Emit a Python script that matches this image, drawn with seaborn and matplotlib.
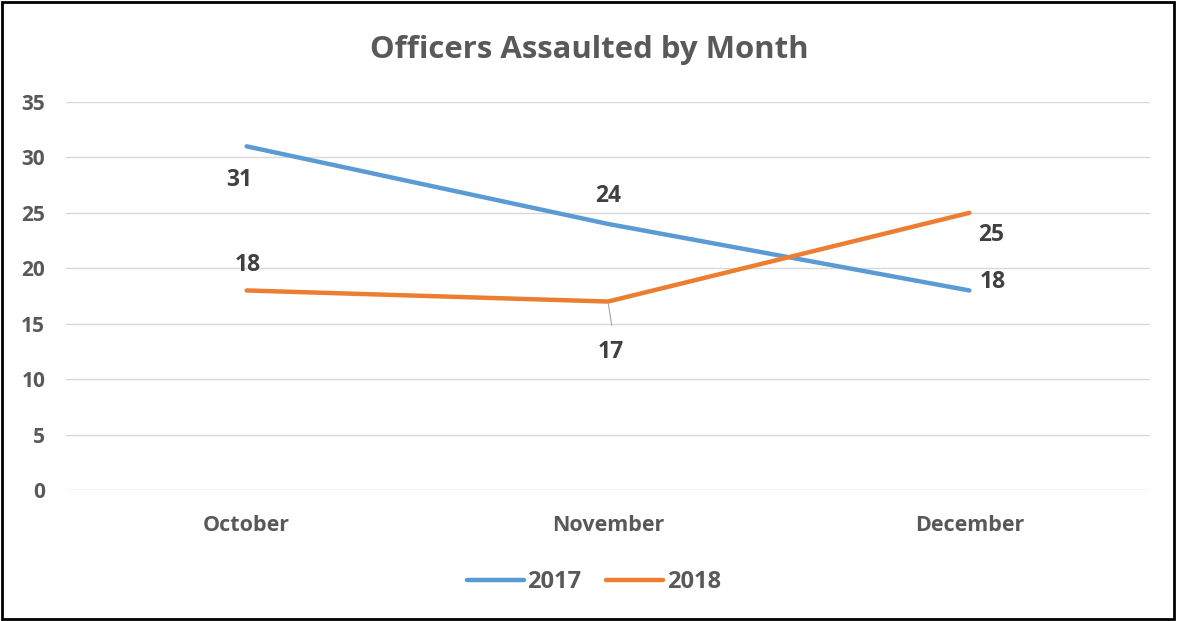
"""
Officers assaulted by month - line chart, 2017 vs 2018.
"""
import matplotlib
matplotlib.use("Agg")
import matplotlib.pyplot as plt
import pandas as pd
import seaborn as sns
from matplotlib.patches import Rectangle

# Data
months = ["October", "November", "December"]
years = ["2017", "2018"]
values_2017 = [31, 24, 18]
values_2018 = [18, 17, 25]
y_ticks = [0, 5, 10, 15, 20, 25, 30, 35]

# label placement per point (offset in points)
label_offsets = {
    "2017": [(-5, -24), (0, 20), (17, 6)],
    "2018": [(1, 18), (2, -36), (16, -16)],
}

COLORS = {"2017": "#5B9BD5", "2018": "#ED7D31"}
TEXT = "#595959"
LABEL = "#404040"

df = pd.DataFrame({
    "month": months * 2,
    "year": ["2017"] * 3 + ["2018"] * 3,
    "count": values_2017 + values_2018,
})
df["pos"] = df["month"].map({m: i for i, m in enumerate(months)})

sns.set_theme(style="white")
plt.rcParams["font.family"] = ["Open Sans", "DejaVu Sans"]
plt.rcParams["font.weight"] = "bold"

fig = plt.figure(figsize=(11.78, 6.21), dpi=100)
ax = fig.add_axes([66 / 1178, 1 - 490 / 621, (1150 - 66) / 1178, (490 - 102) / 621])

sns.lineplot(data=df, x="pos", y="count", hue="year", palette=COLORS,
             linewidth=3.2, ax=ax, legend=False, sort=False)
for line in ax.get_lines():
    line.set_solid_capstyle("round")

ax.set_xlim(-0.5, 2.5)
ax.set_ylim(0, 35)
ax.set_yticks(y_ticks)
ax.set_xticks(range(len(months)))
ax.set_xticklabels(months)
ax.set_xlabel("")
ax.set_ylabel("")
ax.grid(axis="y", color="#D9D9D9", linewidth=1)
ax.set_axisbelow(True)
for s in ax.spines.values():
    s.set_visible(False)
ax.tick_params(axis="both", length=0, labelcolor=TEXT)
ax.tick_params(axis="y", pad=15, labelsize=15)
ax.tick_params(axis="x", pad=18, labelsize=15.5)
for t in ax.get_xticklabels() + ax.get_yticklabels():
    t.set_fontweight("bold")

# data labels
for year, vals in (("2017", values_2017), ("2018", values_2018)):
    for i, v in enumerate(vals):
        dx, dy = label_offsets[year][i]
        ax.annotate(str(v), (i, v), xytext=(dx, dy), textcoords="offset points",
                    ha="center", va="center", fontsize=16.5, fontweight="bold",
                    color=LABEL)

# leader line for the November 2018 label
ax.annotate("", (1, values_2018[1]), xytext=(3, -19), textcoords="offset points",
            arrowprops=dict(arrowstyle="-", color="#A6A6A6", lw=0.8))

fig.text(589 / 1178, 1 - 50 / 621, "Officers Assaulted by Month", ha="center",
         va="center", fontsize=22.4, fontweight="bold", color=TEXT)

# legend
handles = [plt.Line2D([0], [0], color=COLORS[y], lw=3.2, solid_capstyle="round") for y in years]
fig.legend(handles, years, loc="center", bbox_to_anchor=(594 / 1178, 1 - 582 / 621),
           ncol=2, frameon=False, handlelength=2.4, handletextpad=0.15,
           columnspacing=1.05, labelcolor=TEXT, prop={"weight": "bold", "size": 17})

fig.add_artist(Rectangle((0.002, 0.003), 0.995, 0.994, transform=fig.transFigure,
                         fill=False, edgecolor="black", linewidth=2))

fig.savefig("out.png", dpi=100)
